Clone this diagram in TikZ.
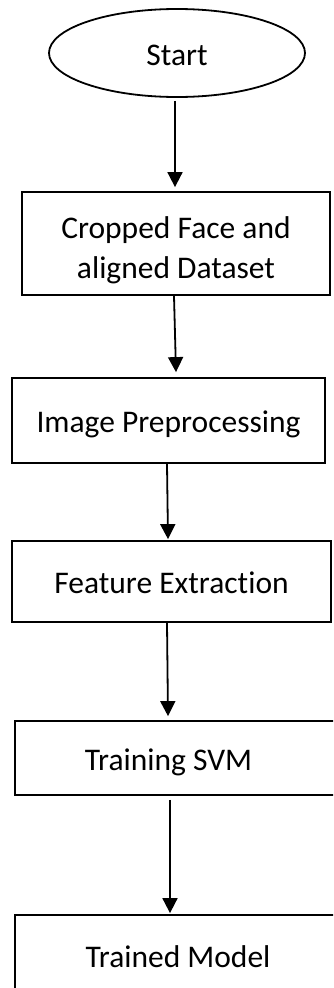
\documentclass[tikz,border=0pt]{standalone}
\usepackage{fontspec}
\setmainfont{Carlito}[Ligatures=NoCommon]
\usetikzlibrary{shapes.geometric,arrows.meta}
\begin{document}
\begin{tikzpicture}[x=1pt,y=1pt,
  txt/.style={font=\fontsize{31.5}{40}\selectfont},
  box/.style={txt,draw,line width=1.8pt,rectangle,inner sep=0pt,text height=30pt,text depth=6pt},
  term/.style={txt,draw,line width=1.8pt,ellipse,inner sep=0pt,text height=30pt,text depth=6pt},
  arr/.style={line width=1.8pt,-{Triangle[width=15pt,length=15pt]}}]
\useasboundingbox (0,0) rectangle (333,-988);
\clip (0,0) rectangle (333,-988);
\node[term,minimum width=256pt,minimum height=88pt] (st) at (177,-53) {Start};
\node[box,minimum width=308pt,minimum height=103pt,align=center,text height=75pt,text depth=6pt] (b1) at (176,-243.5) {Cropped Face and\\aligned Dataset};
\node[box,minimum width=313pt,minimum height=85pt] (b2) at (168.5,-420.5) {Image Preprocessing};
\node[box,minimum width=319pt,minimum height=81pt] (b3) at (171.5,-581.5) {Feature Extraction};
\node[box,minimum width=330pt,minimum height=74pt] (b4) at (180,-758) {\hspace*{-23pt}Training SVM};
\node[box,minimum width=330pt,minimum height=80pt] (b5) at (180,-955) {\hspace*{-4pt}Trained Model};
\draw[arr] ([xshift=-2pt,yshift=-3pt]st.south) -- ([xshift=-1pt,yshift=4pt]b1.north);
\draw[arr] ([xshift=-2pt]b1.south) -- ([xshift=7.5pt,yshift=5pt]b2.north);
\draw[arr] ([xshift=-1.5pt]b2.south) -- ([xshift=-3.5pt,yshift=1pt]b3.north);
\draw[arr] ([xshift=-4.5pt]b3.south) -- ([xshift=-12pt,yshift=4pt]b4.north);
\draw[arr] ([xshift=-10pt,yshift=-4pt]b4.south) -- ([xshift=-10pt,yshift=1pt]b5.north);
\end{tikzpicture}
\end{document}
